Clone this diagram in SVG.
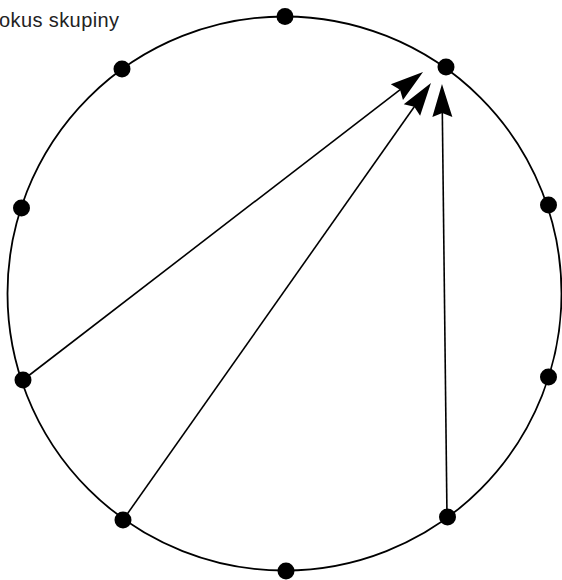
<svg xmlns="http://www.w3.org/2000/svg" width="562" height="580" viewBox="0 0 562 580">
  <style>
    .ring { fill: none; stroke: #000; stroke-width: 1.8; }
    .dot { fill: #000; }
    .arrow { fill: none; stroke: #000; stroke-width: 1.6; marker-end: url(#head); }
    .label { font-family: "Liberation Sans", Arial, sans-serif; font-size: 20px; fill: #222; letter-spacing: 0.4px; }
  </style>
  <defs>
    <marker id="head" markerUnits="userSpaceOnUse" markerWidth="50" markerHeight="30" viewBox="-30 -15 50 30" refX="0" refY="0" orient="auto">
      <path d="M10,0 L-23,-10 L-19,0 L-23,10 Z" fill="#000"/>
    </marker>
  </defs>
  <rect width="562" height="580" fill="#fff"/>
  <text class="label" x="-1" y="27">okus skupiny</text>
  <g id="circle">
    <circle class="ring" cx="284.5" cy="293.5" r="277"/>
  </g>
  <g id="connectors">
    <line class="arrow" x1="23" y1="380" x2="415.1" y2="78.1"/>
    <line class="arrow" x1="123" y1="520" x2="425.2" y2="91.2"/>
    <line class="arrow" x1="447" y1="517" x2="442.1" y2="94"/>
  </g>
  <g id="n1"><circle class="dot" cx="285" cy="16.5" r="8.5"/></g>
  <g id="n2"><circle class="dot" cx="446" cy="67" r="8.5"/></g>
  <g id="n3"><circle class="dot" cx="548.5" cy="205" r="8.5"/></g>
  <g id="n4"><circle class="dot" cx="548.5" cy="377" r="8.5"/></g>
  <g id="n5"><circle class="dot" cx="447.5" cy="517" r="8.5"/></g>
  <g id="n6"><circle class="dot" cx="286" cy="571" r="8.5"/></g>
  <g id="n7"><circle class="dot" cx="123" cy="520" r="8.5"/></g>
  <g id="n8"><circle class="dot" cx="23" cy="380" r="8.5"/></g>
  <g id="n9"><circle class="dot" cx="21.5" cy="208" r="8.5"/></g>
  <g id="n10"><circle class="dot" cx="122" cy="69" r="8.5"/></g>
</svg>
